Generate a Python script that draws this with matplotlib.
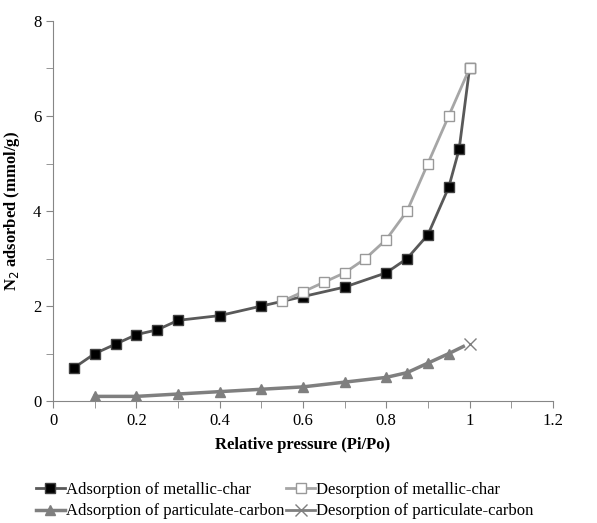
import matplotlib
matplotlib.use("Agg")
import matplotlib.pyplot as plt
from matplotlib.ticker import MultipleLocator

plt.rcParams['font.family'] = ['Liberation Serif', 'DejaVu Serif']

# metallic-char
ads_char_x = [0.05, 0.1, 0.15, 0.2, 0.25, 0.3, 0.4, 0.5, 0.6, 0.7, 0.8, 0.85, 0.9, 0.95, 0.975, 1.0]
ads_char_y = [0.7, 1.0, 1.2, 1.4, 1.5, 1.7, 1.8, 2.0, 2.2, 2.4, 2.7, 3.0, 3.5, 4.5, 5.3, 7.0]
des_char_x = [1.0, 0.95, 0.9, 0.85, 0.8, 0.75, 0.7, 0.65, 0.6, 0.55]
des_char_y = [7.0, 6.0, 5.0, 4.0, 3.4, 3.0, 2.7, 2.5, 2.3, 2.1]

# particulate-carbon
ads_pc_x = [0.1, 0.2, 0.3, 0.4, 0.5, 0.6, 0.7, 0.8, 0.85, 0.9, 0.95, 0.985]
ads_pc_y = [0.1, 0.1, 0.15, 0.2, 0.25, 0.3, 0.4, 0.5, 0.6, 0.8, 1.0, 1.15]
des_pc_x = [1.0]
des_pc_y = [1.2]

fig = plt.figure(figsize=(5.97, 5.23), dpi=100)
ax = fig.add_axes([0.089, 0.233, 0.837, 0.727])

l1, = ax.plot(ads_char_x, ads_char_y, color='#595959', lw=2, marker='s', ms=7,
              mfc='black', mec='#404040', label='Adsorption of metallic-char')
l2, = ax.plot(des_char_x, des_char_y, color='#a6a6a6', lw=2, marker='s', ms=7,
              mfc='white', mec='#999999', label='Desorption of metallic-char')
l3, = ax.plot(ads_pc_x, ads_pc_y, color='#7f7f7f', lw=2.5, marker='^', ms=7,
              mfc='#7f7f7f', mec='#7f7f7f', markevery=list(range(len(ads_pc_x) - 1)),
              label='Adsorption of particulate-carbon')
l4, = ax.plot(des_pc_x, des_pc_y, color='#7f7f7f', lw=2, marker='x', ms=9, mew=1,
              label='Desorption of particulate-carbon')

ax.set_xlim(0, 1.2)
ax.set_ylim(0, 8)
ax.set_xticks([0, 0.2, 0.4, 0.6, 0.8, 1.0, 1.2])
ax.set_xticklabels(['0', '0.2', '0.4', '0.6', '0.8', '1', '1.2'])
ax.xaxis.set_minor_locator(MultipleLocator(0.1))
ax.yaxis.set_major_locator(MultipleLocator(2))
ax.yaxis.set_minor_locator(MultipleLocator(1))

for s in ['top', 'right']:
    ax.spines[s].set_visible(False)
for s in ['left', 'bottom']:
    ax.spines[s].set_color('#868686')
ax.tick_params(which='both', color='#868686', labelsize=12, direction='out', length=5)

ax.set_xlabel('Relative pressure (Pi/Po)', fontsize=12, fontweight='bold', labelpad=6)
ax.set_ylabel('N$_2$ adsorbed (mmol/g)', fontsize=12, fontweight='bold', labelpad=8)

# legend order: row-wise like the original
ax.legend([l1, l3, l2, l4], [l1.get_label(), l3.get_label(), l2.get_label(), l4.get_label()],
          loc='upper left', bbox_to_anchor=(-0.047, -0.194), ncol=2, frameon=False,
          fontsize=12, handlelength=1.7, handletextpad=0.1, columnspacing=0.1,
          labelspacing=0.35, borderaxespad=0)

fig.savefig('out.png', dpi=100)
